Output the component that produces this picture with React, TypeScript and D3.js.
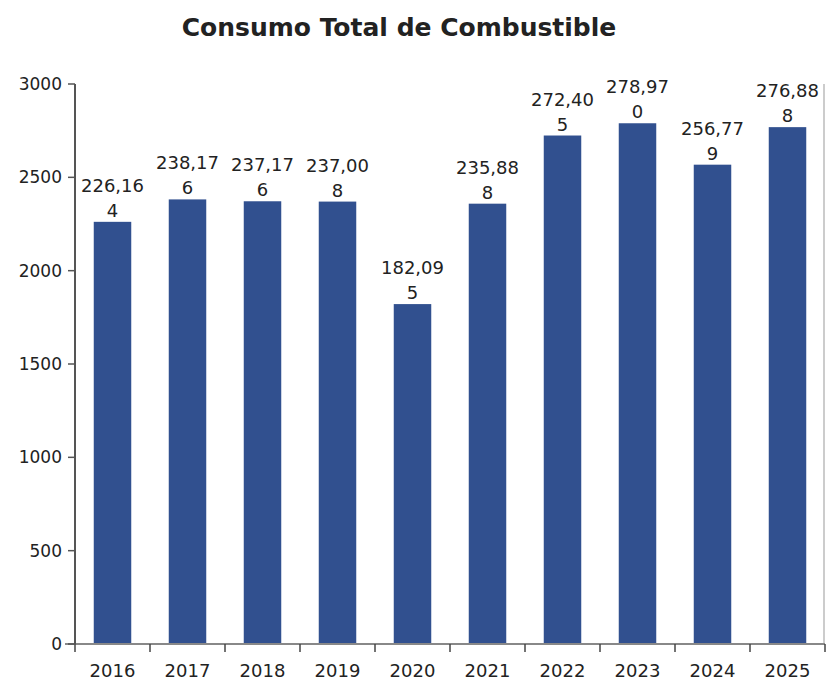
import React from "react";
import * as d3 from "d3";

const years = ["2016", "2017", "2018", "2019", "2020", "2021", "2022", "2023", "2024", "2025"];
const values = [2261.64, 2381.76, 2371.76, 2370.08, 1820.95, 2358.88, 2724.05, 2789.7, 2567.79, 2768.88];
const valueLabels = ["226,164", "238,176", "237,176", "237,008", "182,095", "235,888", "272,405", "278,970", "256,779", "276,888"];
const yTicks = [0, 500, 1000, 1500, 2000, 2500, 3000];

const W = 826;
const H = 684;
const left = 75;
const right = 825;
const top = 84;
const bottom = 644;
const font = "DejaVu Sans, sans-serif";

export default function App() {
  const x = d3.scaleBand<string>().domain(years).range([left, right]).paddingInner(0.5).paddingOuter(0.25);
  const y = d3.scaleLinear().domain([0, 3000]).range([bottom, top]);
  const boundaries = d3.range(years.length + 1).map((i) => left + (i * (right - left)) / years.length);

  return (
    <svg width={W} height={H} style={{ position: "absolute", left: 0, top: 0, background: "#fff" }}>
      <text x={399} y={36} textAnchor="middle" fontFamily={font} fontWeight="bold" fontSize={25} fill="#222">
        Consumo Total de Combustible
      </text>
      {years.map((yr, i) => (
        <rect key={yr} x={x(yr)!} y={y(values[i])} width={x.bandwidth()} height={bottom - y(values[i])} fill="#31508f" />
      ))}
      {years.map((yr, i) => {
        const cx = x(yr)! + x.bandwidth() / 2;
        const yt = y(values[i]);
        const lbl = valueLabels[i];
        return (
          <g key={"l" + yr} fontFamily={font} fontSize={18} fill="#222" textAnchor="middle">
            <text x={cx} y={yt - 30}>{lbl.slice(0, 6)}</text>
            <text x={cx} y={yt - 5}>{lbl.slice(6)}</text>
          </g>
        );
      })}
      {/* right border */}
      <line x1={right - 1} x2={right - 1} y1={top} y2={bottom} stroke="#bbb" strokeWidth={1.5} />
      {/* x axis */}
      <line x1={65} x2={right} y1={bottom} y2={bottom} stroke="#888" strokeWidth={2} />
      {boundaries.map((b, i) => (
        <line key={"xt" + i} x1={b} x2={b} y1={bottom} y2={bottom + 8} stroke="#444" strokeWidth={1.5} />
      ))}
      {years.map((yr) => (
        <text key={"xl" + yr} x={x(yr)! + x.bandwidth() / 2} y={677} textAnchor="middle" fontFamily={font} fontSize={18} fill="#222">
          {yr}
        </text>
      ))}
      {/* y axis */}
      <line x1={left} x2={left} y1={top} y2={bottom} stroke="#555" strokeWidth={2} />
      {yTicks.map((t) => (
        <g key={"yt" + t}>
          <line x1={left - 7} x2={left} y1={y(t)} y2={y(t)} stroke="#555" strokeWidth={1.5} />
          <text x={62} y={y(t) + 6} textAnchor="end" fontFamily={font} fontSize={17} fill="#222">
            {t}
          </text>
        </g>
      ))}
    </svg>
  );
}
